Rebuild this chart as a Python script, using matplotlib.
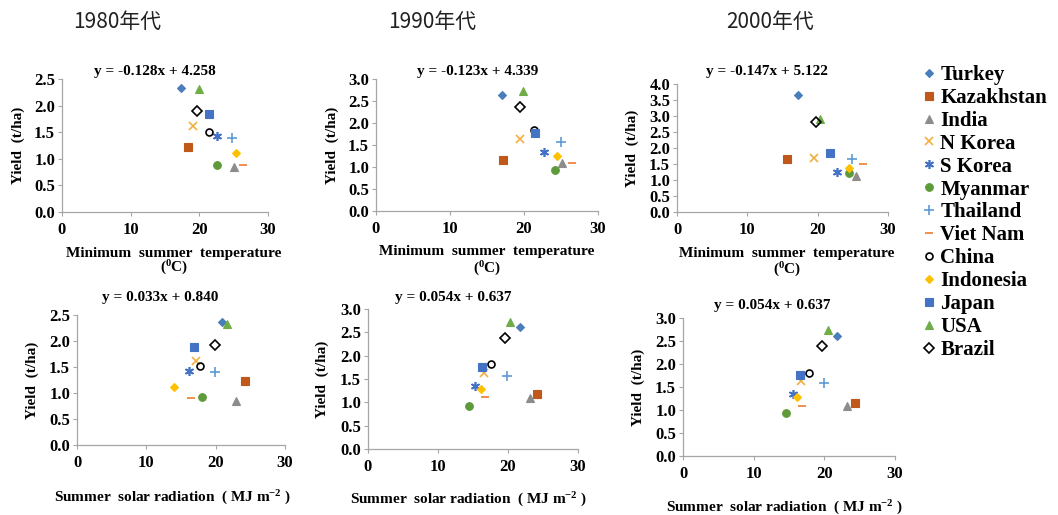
import matplotlib
matplotlib.use("Agg")
import matplotlib.pyplot as plt

W, H = 1058, 515

plt.rcParams['font.family'] = ['Liberation Serif', 'DejaVu Serif']
plt.rcParams['font.weight'] = 'bold'
plt.rcParams['mathtext.fontset'] = 'custom'
plt.rcParams['mathtext.rm'] = 'Liberation Serif:bold'
plt.rcParams['mathtext.bf'] = 'Liberation Serif:bold'
plt.rcParams['mathtext.it'] = 'Liberation Serif:bold'

countries = ['Turkey', 'Kazakhstan', 'India', 'N Korea', 'S Korea', 'Myanmar', 'Thailand',
             'Viet Nam', 'China', 'Indonesia', 'Japan', 'USA', 'Brazil']

# minimum summer temperature vs yield
temp_1980 = [17.4, 18.3, 25.0, 19.1, 22.5, 22.6, 24.8, 26.4, 21.4, 25.3, 21.4, 20.0, 19.7]
yld_t_1980 = [2.34, 1.22, 0.84, 1.61, 1.43, 0.89, 1.39, 0.88, 1.50, 1.10, 1.85, 2.32, 1.90]
temp_1990 = [17.05, 17.2, 25.1, 19.5, 22.7, 24.2, 25.0, 26.5, 21.3, 24.4, 21.5, 19.9, 19.5]
yld_t_1990 = [2.63, 1.15, 1.09, 1.64, 1.33, 0.94, 1.57, 1.10, 1.83, 1.26, 1.78, 2.73, 2.36]
temp_2000 = [17.2, 15.6, 25.4, 19.5, 22.8, 24.4, 24.9, 26.5, None, 24.5, 21.75, 20.4, 19.8]
yld_t_2000 = [3.65, 1.66, 1.13, 1.68, 1.26, 1.23, 1.66, 1.50, None, 1.39, 1.84, 2.91, 2.80]

# summer solar radiation vs yield
rad_1980 = [20.9, 24.2, 22.9, 17.2, 16.1, 18.0, 19.9, 16.4, 17.8, 14.0, 16.9, 21.6, 19.9]
yld_r_1980 = [2.36, 1.24, 0.84, 1.61, 1.43, 0.92, 1.40, 0.90, 1.51, 1.12, 1.88, 2.33, 1.92]
rad_1990 = [21.7, 24.2, 23.1, 16.5, 15.3, 14.4, 19.8, 16.7, 17.6, 16.1, 16.3, 20.3, 19.6]
yld_r_1990 = [2.61, 1.18, 1.10, 1.63, 1.34, 0.93, 1.57, 1.12, 1.83, 1.29, 1.76, 2.72, 2.37]
rad_2000 = [21.8, 24.4, 23.2, 16.7, 15.5, 14.6, 19.9, 16.8, 17.8, 16.2, 16.5, 20.5, 19.7]
yld_r_2000 = [2.61, 1.16, 1.09, 1.63, 1.34, 0.93, 1.58, 1.08, 1.81, 1.28, 1.76, 2.75, 2.39]

decades = ['1980年代', '1990年代', '2000年代']
equations = ['y = -0.128x + 4.258', 'y = -0.123x + 4.339', 'y = -0.147x + 5.122',
             'y = 0.033x + 0.840', 'y = 0.054x + 0.637', 'y = 0.054x + 0.637']
ymax = [2.5, 3.0, 4.0, 2.5, 3.0, 3.0]

# marker, face colour, edge colour, size
styles = {
    'Turkey':     ('D', '#4A7EBB', '#4A7EBB', 4.5),
    'Kazakhstan': ('s', '#C0581C', '#C0581C', 5.5),
    'India':      ('^', '#8C8C8C', '#8C8C8C', 5.5),
    'N Korea':    ('x', '#F0B040', '#F0B040', 6),
    'S Korea':    ((6, 2, 0), '#4472C4', '#4472C4', 6.5),
    'Myanmar':    ('o', '#5E9A3A', '#5E9A3A', 5.5),
    'Thailand':   ('+', '#5B9BD5', '#5B9BD5', 7),
    'Viet Nam':   ('_', '#ED7D31', '#ED7D31', 6),
    'China':      ('o', 'none', 'black', 5),
    'Indonesia':  ('D', '#FFC000', '#FFC000', 4.5),
    'Japan':      ('s', '#4472C4', '#4472C4', 5.5),
    'USA':        ('^', '#70AD47', '#70AD47', 5.5),
    'Brazil':     ('D', 'none', 'black', 5),
}

# axes boxes in pixels: left, top, right, bottom
boxes = [(62, 79, 268, 212), (376, 79, 598, 211), (677, 84, 888, 212),
         (77, 315, 285, 445), (368, 309, 578, 449), (683, 318, 895, 456)]
eq_pos = [(155, 72), (478, 71), (767, 72), (160, 298), (453, 298), (772, 306)]
ylab_x = [18, 332, 632, 32, 322, 638]

fig = plt.figure(figsize=(W / 100, H / 100), dpi=100)

def fx(x):
    return x / W

def fy(y):
    return 1 - y / H

panels = [(temp_1980, yld_t_1980), (temp_1990, yld_t_1990), (temp_2000, yld_t_2000),
          (rad_1980, yld_r_1980), (rad_1990, yld_r_1990), (rad_2000, yld_r_2000)]

handles = []
for i, (xs, ys) in enumerate(panels):
    l, t, r, b = boxes[i]
    ax = fig.add_axes([fx(l), fy(b), (r - l) / W, (b - t) / H])
    for j, name in enumerate(countries):
        if xs[j] is None:
            continue
        m, fc, ec, ms = styles[name]
        thin = fc == 'none' or m in ('x', '+', '_') or isinstance(m, tuple)
        ln, = ax.plot([xs[j]], [ys[j]], ls='none', marker=m, ms=ms, mfc=fc, mec=ec,
                      mew=1.2 if thin else 0.8, label=name)
        if i == 0:
            handles.append(ln)
    ax.set_xlim(0, 30)
    ax.set_ylim(0, ymax[i])
    ax.set_xticks([0, 10, 20, 30])
    ax.set_xticklabels(['0', '10', '20', '30'])
    yt = [k * 0.5 for k in range(int(ymax[i] / 0.5) + 1)]
    ax.set_yticks(yt)
    ax.set_yticklabels([f'{v:.1f}' for v in yt])
    for s in ['top', 'right']:
        ax.spines[s].set_visible(False)
    for s in ['left', 'bottom']:
        ax.spines[s].set_color('#A6A6A6')
        ax.spines[s].set_linewidth(0.9)
    ax.tick_params(axis='both', length=3, width=0.8, color='#A6A6A6', labelsize=12, pad=2)
    ax.tick_params(axis='x', pad=4)
    for lab in ax.get_xticklabels() + ax.get_yticklabels():
        lab.set_fontfamily('Liberation Serif')
        lab.set_fontweight('bold')
    ax.patch.set_alpha(0)

    ex, ey = eq_pos[i]
    fig.text(fx(ex), fy(ey), equations[i], ha='center', va='center', fontsize=11, fontweight='bold')
    fig.text(fx(ylab_x[i]), fy((t + b) / 2), 'Yield  (t/ha)', rotation=90, ha='center', va='center',
             fontsize=11, fontweight='bold')

# x labels
for cx, y1, y2 in [(174, 253, 268), (487, 252, 269), (787, 253, 270)]:
    fig.text(fx(cx), fy(y1), 'Minimum  summer  temperature', ha='center', va='center', fontsize=11)
    fig.text(fx(cx), fy(y2), r'($^{0}$C)', ha='center', va='center', fontsize=11)
for cx, y1 in [(172, 498), (468, 500), (784, 508)]:
    fig.text(fx(cx), fy(y1), r'Summer  solar radiation  ( MJ m$^{-2}$ )', ha='center', va='center',
             fontsize=11)

# decade titles
for cx, d in zip([117, 432, 770], decades):
    fig.text(fx(cx), fy(22), d, ha='center', va='center', fontsize=15, fontweight='normal',
             family=['Noto Sans CJK JP', 'DejaVu Sans'], color='#222222')

fig.legend(handles=handles, labels=countries, loc='upper left', bbox_to_anchor=(fx(921), fy(65)),
           frameon=False, prop={'family': 'Liberation Serif', 'weight': 'bold', 'size': 15},
           labelspacing=0.14, handlelength=0.8, handletextpad=0.12, borderaxespad=0, borderpad=0)

fig.savefig('out.png', dpi=100)
